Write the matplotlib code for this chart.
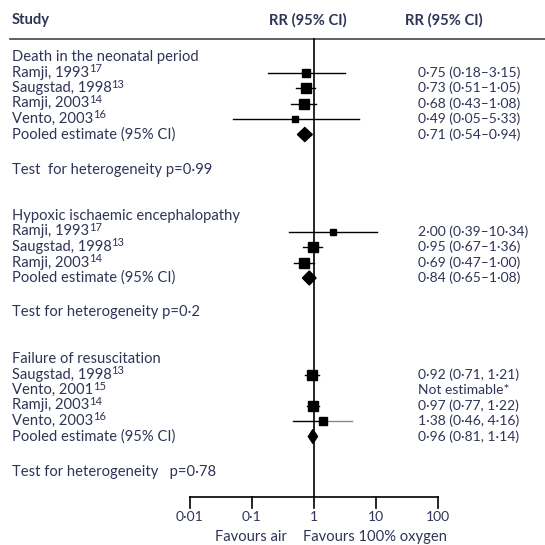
import matplotlib
matplotlib.use("Agg")
from matplotlib import pyplot as plt

plt.rcParams["font.family"] = "Lato"

# --- data -------------------------------------------------------------
death_title = "Death in the neonatal period"
death_studies = ["Ramji, 1993", "Saugstad, 1998", "Ramji, 2003", "Vento, 2003"]
death_refs = ["17", "13", "14", "16"]
death_rr = [0.75, 0.73, 0.68, 0.49]
death_lo = [0.18, 0.51, 0.43, 0.05]
death_hi = [3.15, 1.05, 1.08, 5.33]
death_weight = [14, 42, 31, 10]
death_pooled = [0.71, 0.54, 0.94]
death_test = "Test  for heterogeneity p=0·99"

hie_title = "Hypoxic ischaemic encephalopathy"
hie_studies = ["Ramji, 1993", "Saugstad, 1998", "Ramji, 2003"]
hie_refs = ["17", "13", "14"]
hie_rr = [2.00, 0.95, 0.69]
hie_lo = [0.39, 0.67, 0.47]
hie_hi = [10.34, 1.36, 1.00]
hie_weight = [10, 40, 38]
hie_pooled = [0.84, 0.65, 1.08]
hie_test = "Test for heterogeneity p=0·2"

fail_title = "Failure of resuscitation"
fail_studies = ["Saugstad, 1998", "Vento, 2001", "Ramji, 2003", "Vento, 2003"]
fail_refs = ["13", "15", "14", "16"]
fail_rr = [0.92, None, 0.97, 1.38]
fail_lo = [0.71, None, 0.77, 0.46]
fail_hi = [1.21, None, 1.22, 4.16]
fail_weight = [38, 0, 44, 14]
fail_pooled = [0.96, 0.81, 1.14]
fail_test = "Test for heterogeneity   p=0·78"

ticks = [0.01, 0.1, 1, 10, 100]
tick_labels = ["0·01", "0·1", "1", "10", "100"]

# --- layout -----------------------------------------------------------
txt = "#2e3456"
fs = 10.6
fs_num = 10

fig = plt.figure(figsize=(5.45, 5.45), dpi=100)
bg = fig.add_axes([0, 0, 1, 1])
bg.set_xlim(0, 545)
bg.set_ylim(545, 0)
bg.axis("off")

ax = fig.add_axes([190 / 545, 0, 248 / 545, 1])
ax.set_xscale("log")
ax.set_xlim(0.01, 100)
ax.set_ylim(545, 0)
ax.axis("off")

fig.canvas.draw()
renderer = fig.canvas.get_renderer()
px = bg.transData.inverted()

# header
bg.text(12, 20, "Study", fontsize=fs, fontweight="bold", color=txt, va="center")
bg.text(308, 20, "RR (95% CI)", fontsize=fs, fontweight="bold", color=txt,
        va="center", ha="center")
bg.text(405, 20, "RR (95% CI)", fontsize=fs, fontweight="bold", color=txt,
        va="center")
bg.plot([10, 545], [39, 39], color="#444444", lw=1.2)


def fmt(v):
    return f"{v:.2f}".replace(".", "·")


def section(title, studies, refs, rr, lo, hi, weight, pooled, test, y0, test_y,
            sep, gray_right=None):
    bg.text(12, y0, title, fontsize=fs, color=txt, va="center")
    y = y0
    for i, (name, ref, r, l, h, w) in enumerate(zip(studies, refs, rr, lo, hi, weight)):
        y += 15.5
        t = bg.text(12, y, name, fontsize=fs, color=txt, va="center")
        bb = t.get_window_extent(renderer=renderer)
        x_end = px.transform((bb.x1, bb.y0))[0]
        bg.text(x_end - 0.5, y - 4, ref, fontsize=8, color=txt, va="center")
        if r is None:
            bg.text(418, y, "Not estimable*", fontsize=fs_num, color=txt, va="center")
            continue
        bg.text(418, y, f"{fmt(r)} ({fmt(l)}{sep}{fmt(h)})", fontsize=fs_num,
                color=txt, va="center")
        ax.plot([l, r], [y, y], color="black", lw=1)
        ax.plot([r, h], [y, y], color="#888888" if gray_right == i else "black", lw=1)
        side = 3 + 1.2 * w ** 0.5
        ax.plot(r, y, marker="s", color="black", markersize=side * 0.72, zorder=3)
    y += 15.5
    bg.text(12, y, "Pooled estimate (95% CI)", fontsize=fs, color=txt, va="center")
    bg.text(418, y, f"{fmt(pooled[0])} ({fmt(pooled[1])}{sep}{fmt(pooled[2])})",
            fontsize=fs_num, color=txt, va="center")
    ax.fill([pooled[1], pooled[0], pooled[2], pooled[0]],
            [y, y - 7, y, y + 7], color="black", zorder=3)
    bg.text(12, test_y, test, fontsize=fs, color=txt, va="center")


section(death_title, death_studies, death_refs, death_rr, death_lo, death_hi,
        death_weight, death_pooled, death_test, 57, 170, "–")
section(hie_title, hie_studies, hie_refs, hie_rr, hie_lo, hie_hi, hie_weight,
        hie_pooled, hie_test, 216, 312, "–")
section(fail_title, fail_studies, fail_refs, fail_rr, fail_lo, fail_hi,
        fail_weight, fail_pooled, fail_test, 359, 472, ", ", gray_right=3)

# reference line and axis
ax.plot([1, 1], [39, 497], color="black", lw=1.2)
ax.plot([ticks[0], ticks[-1]], [497, 497], color="black", lw=1.2, clip_on=False)
for t, lab in zip(ticks, tick_labels):
    ax.plot([t, t], [497, 508], color="black", lw=1.2, clip_on=False)
    ax.text(t, 517, lab, fontsize=fs_num, color=txt, ha="center", va="center")
bg.text(287, 537, "Favours air", fontsize=fs, color=txt, ha="right", va="center")
bg.text(303, 537, "Favours 100% oxygen", fontsize=fs, color=txt,
        ha="left", va="center")

fig.savefig("out.png", dpi=100)
